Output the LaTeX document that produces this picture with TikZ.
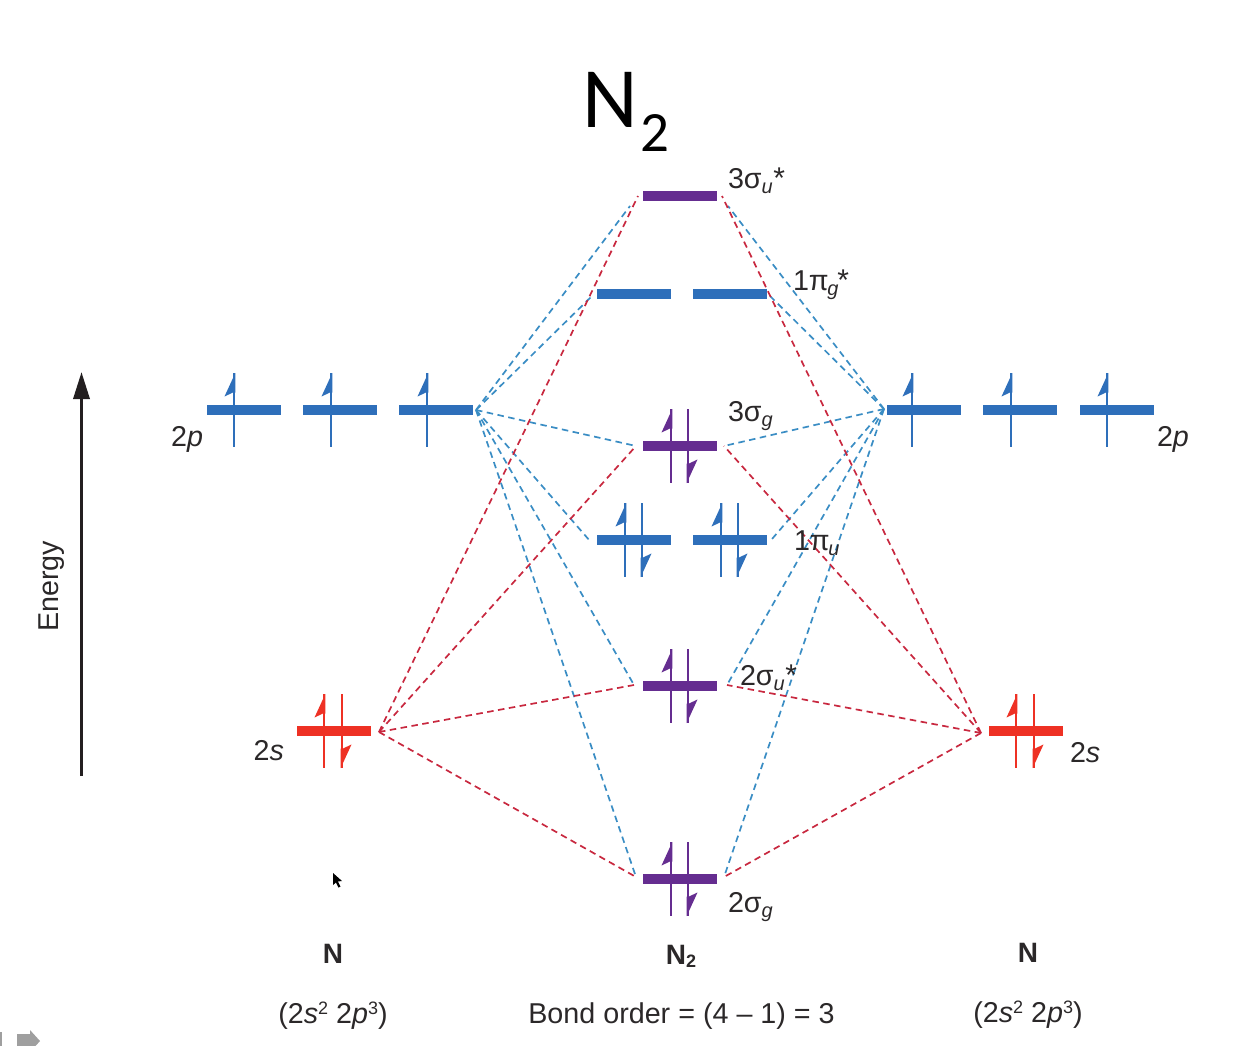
\documentclass[tikz,border=0pt]{standalone}
\usepackage{fontspec}
\setmainfont{Liberation Sans}
\newfontfamily\titlefont{Carlito}
\usetikzlibrary{arrows.meta}
\definecolor{orbblue}{HTML}{2E6FBA}
\definecolor{orbpurple}{HTML}{652D90}
\definecolor{orbred}{HTML}{EE3124}
\definecolor{dashblue}{HTML}{3A8DC4}
\definecolor{dashred}{HTML}{C8283F}
\definecolor{ink}{HTML}{2B2829}
\definecolor{axisink}{HTML}{231F20}
\newcommand{\elstem}[3]{%
  \fill[#3] ([xshift=#2 pt-1.3pt,yshift=37pt]#1.center) -- ([xshift=#2 pt+1.3pt,yshift=37pt]#1.center)
    -- ([xshift=#2 pt+1.3pt,yshift=-37pt]#1.center) -- ([xshift=#2 pt-1.3pt,yshift=-37pt]#1.center) -- cycle;}
\newcommand{\elup}[3]{\elstem{#1}{#2}{#3}%
  \fill[#3] ([xshift=#2 pt+1.3pt,yshift=37pt]#1.center) -- ([xshift=#2 pt-9.5pt,yshift=13.5pt]#1.center)
    -- ([xshift=#2 pt-1pt,yshift=17.5pt]#1.center) -- ([xshift=#2 pt+1.3pt,yshift=17.5pt]#1.center) -- cycle;}
\newcommand{\eldown}[3]{\elstem{#1}{#2}{#3}%
  \fill[#3] ([xshift=#2 pt-1.3pt,yshift=-37pt]#1.center) -- ([xshift=#2 pt+9.5pt,yshift=-13.5pt]#1.center)
    -- ([xshift=#2 pt+1pt,yshift=-17.5pt]#1.center) -- ([xshift=#2 pt-1.3pt,yshift=-17.5pt]#1.center) -- cycle;}
\newcommand{\subsc}[1]{\raisebox{-5.5pt}{\fontsize{20}{22}\selectfont\itshape #1}}
\newcommand{\starsc}{\hspace{0.5pt}\raisebox{-0.5pt}{\fontsize{30}{30}\selectfont *}}
\newcommand{\supsc}[1]{\raisebox{9pt}{\fontsize{18}{18}\selectfont #1}}
\tikzset{
  lvl/.style={rectangle,minimum width=74pt,minimum height=9.5pt,inner sep=0pt,outer sep=0pt,fill=#1},
  dashb/.style={draw=dashblue,line width=1.7pt,dash pattern=on 6.5pt off 4.5pt},
  dashr/.style={draw=dashred,line width=1.7pt,dash pattern=on 6.5pt off 4.5pt},
  lab/.style={inner sep=0pt,outer sep=0pt,text=ink,font=\fontsize{28.7}{30}\selectfont},
  labw/.style={lab,anchor=base west},
  labe/.style={lab,anchor=base east},
  labc/.style={lab,anchor=base},
}
\begin{document}
\begin{tikzpicture}[x=1pt,y=-1pt]
\useasboundingbox (0,0) rectangle (1250,1046);
% hubs and line ends
\coordinate (hl) at (476,410);
\coordinate (hr) at (884,409);
\coordinate (sl) at (379,732);
\coordinate (sr) at (981,733);
\coordinate (t0l) at (630,206);
\coordinate (t0r) at (728,206);
\coordinate (t1l) at (638,196);
\coordinate (t1r) at (722,196);
\coordinate (t2l) at (592,296);
\coordinate (t2r) at (770,296);
\coordinate (t3l) at (636,446);
\coordinate (t3r) at (724,446);
\coordinate (t4l) at (590,541);
\coordinate (t4r) at (772,539);
\coordinate (t5l) at (634,685);
\coordinate (t5r) at (727,685);
\coordinate (t6l) at (636,877);
\coordinate (t6r) at (724,877);
% blue correlation lines
\foreach \t in {t0l,t2l,t3l,t4l,t5l,t6l} \draw[dashb] (hl) -- (\t);
\foreach \t in {t0r,t2r,t3r,t4r,t5r,t6r} \draw[dashb] (hr) -- (\t);
% red correlation lines
\foreach \t in {t1l,t3l,t5l,t6l} \draw[dashr] (sl) -- (\t);
\foreach \t in {t1r,t3r,t5r,t6r} \draw[dashr] (sr) -- (\t);
% levels
\node[lvl=orbblue] (pa) at (244,410) {};
\node[lvl=orbblue] (pb) at (340,410) {};
\node[lvl=orbblue] (pc) at (436,410) {};
\node[lvl=orbblue] (pd) at (924,410) {};
\node[lvl=orbblue] (pe) at (1020,410) {};
\node[lvl=orbblue] (pf) at (1117,410) {};
\node[lvl=orbred] (sa) at (334,731) {};
\node[lvl=orbred] (sb) at (1026,731) {};
\node[lvl=orbpurple] (m1) at (680,196) {};
\node[lvl=orbblue] (m2a) at (634,294) {};
\node[lvl=orbblue] (m2b) at (730,294) {};
\node[lvl=orbpurple] (m3) at (680,446) {};
\node[lvl=orbblue] (m4a) at (634,540) {};
\node[lvl=orbblue] (m4b) at (730,540) {};
\node[lvl=orbpurple] (m5) at (680,686) {};
\node[lvl=orbpurple] (m6) at (680,879) {};
% electrons
\elup{pa}{-10}{orbblue}
\elup{pb}{-9}{orbblue}
\elup{pc}{-9}{orbblue}
\elup{pd}{-12}{orbblue}
\elup{pe}{-9}{orbblue}
\elup{pf}{-10}{orbblue}
\elup{sa}{-10}{orbred}\eldown{sa}{8}{orbred}
\elup{sb}{-10}{orbred}\eldown{sb}{8}{orbred}
\elup{m3}{-9}{orbpurple}\eldown{m3}{8}{orbpurple}
\elup{m4a}{-9}{orbblue}\eldown{m4a}{8}{orbblue}
\elup{m4b}{-9}{orbblue}\eldown{m4b}{8}{orbblue}
\elup{m5}{-9}{orbpurple}\eldown{m5}{8}{orbpurple}
\elup{m6}{-9}{orbpurple}\eldown{m6}{8}{orbpurple}
% energy axis
\coordinate (ea) at (81.5,776);
\coordinate (eb) at (81.5,372);
\draw[axisink,line width=3.4pt,-{Triangle[length=27pt,width=16pt]}] (ea) -- (eb);
\node[lab,rotate=90,anchor=base] (en) at (58,586.5) {Energy};
% title
\node[inner sep=0pt,anchor=base west,font=\titlefont\fontsize{86}{90}\selectfont] (ttl) at (582,128) {N};
\node[inner sep=0pt,anchor=base west,font=\titlefont\fontsize{57}{60}\selectfont] (tts) at (640,151) {2};
% labels
\node[labw] (l1) at (728,188) {3σ\subsc{u}\starsc};
\node[labw] (l2) at (793,290) {1π\hspace{-1.5pt}\subsc{g}\hspace{-1.5pt}\starsc};
\node[labw] (l3) at (728,421) {3σ\subsc{g}};
\node[labw] (l4) at (794,550) {1π\hspace{-1.5pt}\subsc{u}};
\node[labw] (l5) at (740,685) {2σ\subsc{u}\starsc};
\node[labw] (l6) at (728,912) {2σ\subsc{g}};
\node[labe] (lp1) at (203,446) {2\textit{p}};
\node[labw] (lp2) at (1157,446) {2\textit{p}};
\node[labe] (ls1) at (284,760) {2\textit{s}};
\node[labw] (ls2) at (1070,762) {2\textit{s}};
% bottom captions
\node[labc,font=\fontsize{28}{30}\selectfont\bfseries] (n1) at (333,963) {N};
\node[labc,font=\fontsize{28}{30}\selectfont\bfseries] (n2) at (681,964) {N\raisebox{-3pt}{\fontsize{18}{20}\selectfont 2}};
\node[labc,font=\fontsize{28}{30}\selectfont\bfseries] (n3) at (1028,962) {N};
\node[labc] (c1) at (333,1023) {(2\textit{s}\supsc{2} 2\textit{p}\supsc{3})};
\node[labc] (c2) at (681.5,1023) {Bond order = (4 – 1) = 3};
\node[labc] (c3) at (1028,1022) {(2\textit{s}\supsc{2} 2\textit{p}\supsc{3})};
% pointer and screen widget
\fill[black] (333,873) -- (333,885) -- (336,882.5) -- (338.5,887.5) -- (340.5,886.5) -- (338,881.5) -- (342,881) -- cycle;
\fill[gray!75] (17,1034) -- (30,1034) -- (30,1030) -- (40,1041) -- (35.5,1046) -- (17,1046) -- cycle;
\fill[gray!75] (0,1032) rectangle (2,1046);
\end{tikzpicture}
\end{document}
